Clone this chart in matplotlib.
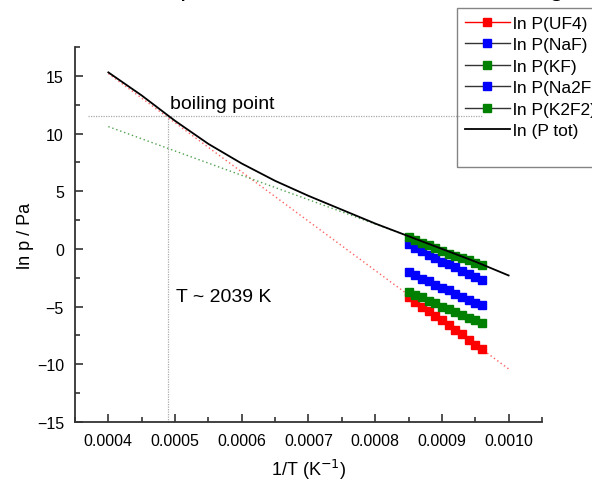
import numpy as np
import matplotlib
matplotlib.use("Agg")
import matplotlib.pyplot as plt
from matplotlib.ticker import MultipleLocator
from matplotlib.lines import Line2D

plt.rcParams['font.family'] = ['Liberation Sans', 'DejaVu Sans']

# measured points (1/T in K^-1, ln p in Pa)
inv_t = [0.00085, 0.00086, 0.00087, 0.00088, 0.00089, 0.00090,
         0.00091, 0.00092, 0.00093, 0.00094, 0.00095, 0.00096]
ln_uf4 = [-4.2, -4.6, -5.0, -5.4, -5.8, -6.2, -6.6, -7.0, -7.4, -7.9, -8.3, -8.7]
ln_naf = [0.4, 0.1, -0.2, -0.5, -0.8, -1.1, -1.3, -1.6, -1.9, -2.2, -2.4, -2.7]
ln_kf = [1.0, 0.8, 0.5, 0.3, 0.1, -0.2, -0.4, -0.6, -0.8, -1.0, -1.2, -1.4]
ln_na2f2 = [-2.0, -2.3, -2.6, -2.8, -3.1, -3.4, -3.6, -3.9, -4.2, -4.4, -4.7, -4.9]
ln_k2f2 = [-3.7, -4.0, -4.2, -4.5, -4.7, -5.0, -5.2, -5.5, -5.7, -6.0, -6.2, -6.4]

# total pressure curve
tot_x = [0.00040, 0.00045, 0.00050, 0.00055, 0.00060, 0.00065, 0.00070,
         0.00075, 0.00080, 0.00085, 0.00090, 0.00095, 0.00100]
tot_y = [15.3, 13.3, 11.1, 9.1, 7.4, 5.9, 4.6, 3.4, 2.2, 1.1, 0.0, -1.1, -2.3]

# extrapolations (dotted)
uf4_fit_x = [0.00040, 0.00100]
uf4_fit_y = [15.2, -10.4]
kf_fit_x = [0.00040, 0.00085]
kf_fit_y = [10.6, 1.1]

# boiling point
bp_x = 0.00049
bp_y = 11.5

fig = plt.figure(figsize=(5.92, 4.81), dpi=100)
ax = fig.add_axes([0.1267, 0.1206, 0.7888, 0.7796])

ax.plot(uf4_fit_x, uf4_fit_y, ls=(0, (1, 2)), color='#ff6060', lw=1.0)
ax.plot(kf_fit_x, kf_fit_y, ls=(0, (1, 2)), color='#50a050', lw=1.0)
ax.plot([0.00037, 0.00096], [bp_y, bp_y], ls=(0, (1, 1)), color='#aaaaaa', lw=0.9)
ax.plot([bp_x, bp_x], [bp_y, -15], ls=(0, (1, 1)), color='#aaaaaa', lw=0.9)

ms = 5.5
ax.plot(inv_t, ln_uf4, '-s', color='red', mfc='red', mec='red', ms=ms, lw=1, label='ln P(UF4)')
ax.plot(inv_t, ln_naf, '-s', color='#333333', mfc='blue', mec='blue', ms=ms, lw=1, label='ln P(NaF)')
ax.plot(inv_t, ln_kf, '-s', color='#333333', mfc='green', mec='green', ms=ms, lw=1, label='ln P(KF)')
ax.plot(inv_t, ln_na2f2, '-s', color='#333333', mfc='blue', mec='blue', ms=ms, lw=1, label='ln P(Na2F2)')
ax.plot(inv_t, ln_k2f2, '-s', color='#333333', mfc='green', mec='green', ms=ms, lw=1, label='ln P(K2F2)')
ax.plot(tot_x, tot_y, '-', color='black', lw=1.3, label='ln (P tot)')

ax.set_xlim(0.00035, 0.00105)
ax.set_ylim(-15, 17.5)
ax.xaxis.set_minor_locator(MultipleLocator(0.00005))
ax.yaxis.set_minor_locator(MultipleLocator(2.5))
ax.set_xticks([0.0004, 0.0005, 0.0006, 0.0007, 0.0008, 0.0009, 0.0010])
ax.set_xticklabels(['0.0004', '0.0005', '0.0006', '0.0007', '0.0008', '0.0009', '0.0010'])
ax.set_yticks([-15, -10, -5, 0, 5, 10, 15])
ax.set_yticklabels(['\u221215', '\u221210', '\u22125', '0', '5', '10', '15'])

for s in ['top', 'right']:
    ax.spines[s].set_visible(False)
for s in ['left', 'bottom']:
    ax.spines[s].set_color('#333333')
    ax.spines[s].set_linewidth(1.3)
ax.tick_params(which='major', direction='in', length=6, width=1.2, color='#333333',
               labelsize=11.5, pad=8)
ax.tick_params(which='minor', direction='in', length=3.5, width=1.2, color='#333333')

ax.set_xlabel('1/T (K$^{-1}$)', fontsize=13, labelpad=6)
ax.set_ylabel('ln p / Pa', fontsize=13, labelpad=2)

ax.text(0.000493, 12.2, 'boiling point', fontsize=14)
ax.text(0.000502, -4.55, 'T ~ 2039 K', fontsize=14)

# title mostly cut off at top edge
fig.text(0.197, 1.0084, 'Total pressure as a function of heating', fontsize=19,
         va='baseline', ha='left')

handles, labels = ax.get_legend_handles_labels()
handles.append(Line2D([], [], color='none'))
labels.append(' ')
leg = fig.legend(handles, labels, loc='upper left', bbox_to_anchor=(457 / 592, 1 - 9 / 481),
                 fontsize=12.5, frameon=True, fancybox=False, handlelength=2.6,
                 borderpad=0.45, labelspacing=0.36, handletextpad=0.2, borderaxespad=0)
leg.get_frame().set_edgecolor('#666666')
leg.get_frame().set_facecolor('none')
leg.get_frame().set_linewidth(1.0)

fig.savefig('out.png', dpi=100)
